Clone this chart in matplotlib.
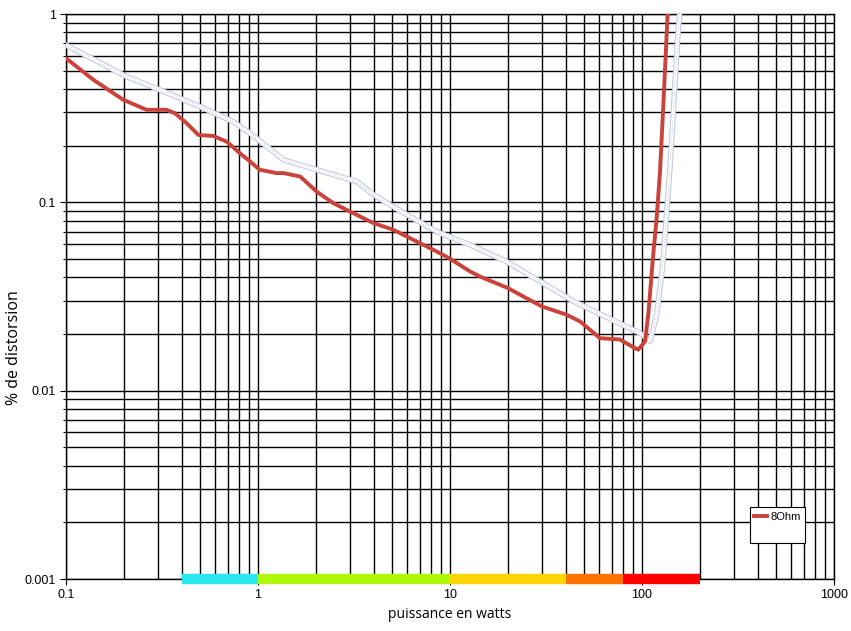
import matplotlib
matplotlib.use("Agg")
import matplotlib.pyplot as plt
from matplotlib.lines import Line2D

# red curve, 8 Ohm
red_x = [0.1, 0.139, 0.199, 0.263, 0.334, 0.37, 0.425, 0.489, 0.585, 0.687, 0.822,
         0.908, 1.02, 1.25, 1.36, 1.66, 2.02, 2.47, 3.01, 3.99, 5.07, 6.7, 8.87, 10,
         12.7, 14.3, 20.1, 23.2, 30.1, 40.5, 47.6, 60.4, 76.7, 88.3, 95.7, 103.8,
         108, 114.6, 119, 124, 128.6, 136]
red_y = [0.582, 0.447, 0.35, 0.31, 0.31, 0.297, 0.263, 0.228, 0.225, 0.21, 0.179,
         0.165, 0.149, 0.143, 0.143, 0.137, 0.114, 0.099, 0.0894, 0.0776, 0.0715,
         0.062, 0.0537, 0.0502, 0.043, 0.0404, 0.035, 0.0323, 0.028, 0.0253, 0.0233,
         0.019, 0.0187, 0.0172, 0.0165, 0.0183, 0.0258, 0.0537, 0.0807, 0.143, 0.3, 1.0]

# pale second curve
blue_x = [0.1, 0.207, 0.309, 0.5, 0.743, 0.908, 1.36, 2.02, 3.27, 3.99, 4.87,
          7.87, 8.87, 12.7, 19.7, 44, 97.7, 110, 119, 128, 140, 154, 157]
blue_y = [0.684, 0.465, 0.395, 0.322, 0.268, 0.233, 0.168, 0.149, 0.129, 0.11,
          0.097, 0.073, 0.0687, 0.0595, 0.0485, 0.0298, 0.0202, 0.0183, 0.025, 0.0455,
          0.154, 0.79, 1.0]

# colour band under the x axis
band_edges = [0.4, 1, 10, 40, 80, 200]
band_colors = ['#2ae8f0', '#b0f80a', '#ffd500', '#ff7300', '#ff0000']

plt.rcParams['font.family'] = ['Liberation Sans', 'DejaVu Sans']

fig = plt.figure(figsize=(8.51, 6.31), dpi=100)
ax = fig.add_axes([0.0776, 0.0824, 0.9024, 0.8954])
ax.set_xscale('log')
ax.set_yscale('log')
ax.set_xlim(0.1, 1000)
ax.set_ylim(0.001, 1)

ax.grid(True, which='both', color='black', linewidth=1.0, zorder=0)
ax.set_axisbelow(True)

# pale curve: bluish speckled edge, white core
ax.plot(blue_x, blue_y, color='#c3cadf', lw=4.0, zorder=3, solid_joinstyle='round')
ax.plot(blue_x, blue_y, color='white', lw=2.4, zorder=3, solid_joinstyle='round')
ax.plot(blue_x, blue_y, color='#8c97b8', lw=0.5, ls=(0, (1, 3)), zorder=3)

ax.plot(red_x, red_y, color='#c9433b', lw=2.8, zorder=4,
        solid_capstyle='round', solid_joinstyle='round')

for i, c in enumerate(band_colors):
    ax.plot([band_edges[i], band_edges[i + 1]], [0.001, 0.001], color=c, lw=7.5,
            solid_capstyle='butt', clip_on=False, zorder=5)

ax.set_xticks([0.1, 1, 10, 100, 1000])
ax.set_xticklabels(['0.1', '1', '10', '100', '1000'])
ax.set_yticks([0.001, 0.01, 0.1, 1])
ax.set_yticklabels(['0.001', '0.01', '0.1', '1'])
ax.tick_params(which='major', direction='out', length=4, width=0.8, labelsize=9)
ax.tick_params(axis='y', which='minor', direction='out', length=2.5, width=0.7)
ax.tick_params(axis='x', which='minor', length=0)
for s in ax.spines.values():
    s.set_color('black')
    s.set_linewidth(1.0)

ax.set_xlabel('puissance en watts', fontsize=10, family=['Open Sans', 'DejaVu Sans'], labelpad=4)
ax.set_ylabel('% de distorsion', fontsize=11.5, family=['Open Sans', 'DejaVu Sans'])
ax.yaxis.set_label_coords(-0.057, 0.41)

handles = [Line2D([], [], color='#c9433b', lw=2.8),
           Line2D([], [], color='white', lw=1)]
leg = ax.legend(handles, ['8Ohm', ' '], loc='lower left', bbox_to_anchor=(0.89, 0.064),
                borderaxespad=0, fontsize=8, handlelength=1.2, handletextpad=0.3,
                fancybox=False, framealpha=1, edgecolor='black', labelspacing=0.6)
leg.get_frame().set_linewidth(0.8)

fig.savefig('out.png', dpi=100)
